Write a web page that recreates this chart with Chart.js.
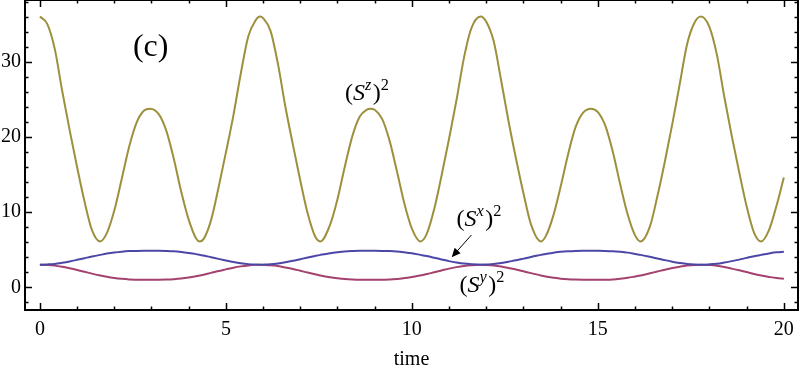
<!DOCTYPE html>
<html>
<head>
<meta charset="utf-8">
<script src="https://cdn.jsdelivr.net/npm/chart.js@4.4.1/dist/chart.umd.min.js"></script>
<style>
  html, body { margin: 0; padding: 0; background: #fff; }
  #wrap { width: 800px; height: 374px; position: relative; }
</style>
</head>
<body>
<div id="wrap"><canvas id="spinChart"></canvas></div>
<script>
// time samples (x axis), with the turning points of the curves included
const times = [0, 0.2, 0.4, 0.6, 0.8, 1.0, 1.2, 1.4, 1.62, 1.8,
    2.0, 2.2, 2.4, 2.6, 2.8, 2.96, 3.2, 3.4, 3.6, 3.8,
    4.0, 4.2, 4.3, 4.4, 4.6, 4.8, 5.0, 5.2, 5.4, 5.6,
    5.8, 5.92, 6.0, 6.2, 6.4, 6.6, 6.8, 7.0, 7.2, 7.4,
    7.54, 7.8, 8.0, 8.2, 8.4, 8.6, 8.8, 8.88, 9.0, 9.2,
    9.4, 9.6, 9.8, 10.0, 10.23, 10.4, 10.6, 10.8, 11.0, 11.2,
    11.4, 11.6, 11.85, 12.0, 12.2, 12.4, 12.6, 12.8, 13.0, 13.2,
    13.47, 13.6, 13.8, 14.0, 14.2, 14.4, 14.6, 14.81, 15.0, 15.2,
    15.4, 15.6, 15.8, 16.0, 16.15, 16.4, 16.6, 16.8, 17.0, 17.2,
    17.4, 17.6, 17.77, 18.0, 18.2, 18.4, 18.6, 18.8, 19.0, 19.2,
    19.39, 19.6, 19.8, 20];

// (S^z)^2
const szSquared = [36.0, 35.0, 31.7, 26.1, 20.9, 16.0, 11.4, 7.6, 6.1, 7.2,
    10.2, 14.4, 18.7, 21.9, 23.5, 23.75, 23.0, 20.8, 17.1, 12.7,
    9.0, 6.5, 6.1, 6.4, 8.9, 13.2, 17.9, 22.8, 28.4, 33.3,
    35.5, 36.0, 35.8, 34.1, 29.7, 24.0, 19.0, 14.2, 9.8, 6.75,
    6.1, 8.3, 11.7, 16.1, 20.1, 22.7, 23.65, 23.75, 23.6, 22.4,
    19.5, 15.4, 11.1, 7.8, 6.1, 7.1, 10.4, 14.9, 19.75, 24.9,
    30.5, 34.45, 36.0, 35.3, 32.7, 27.5, 22.05, 17.1, 12.5, 8.4,
    6.1, 6.8, 9.5, 13.4, 17.7, 21.3, 23.2, 23.75, 23.3, 21.5,
    18.05, 13.7, 9.7, 6.9, 6.1, 8.1, 12.1, 16.7, 21.7, 27.0,
    32.35, 35.2, 36.0, 34.6, 30.9, 25.3, 20.1, 15.3, 10.75, 7.25,
    6.1, 7.6, 10.8, 14.6];

// (S^x)^2
const sxSquared = [3.00, 3.04, 3.11, 3.26, 3.44, 3.65, 3.87, 4.09, 4.31, 4.48,
    4.63, 4.74, 4.81, 4.84, 4.85, 4.85, 4.85, 4.83, 4.79, 4.70,
    4.57, 4.41, 4.31, 4.22, 4.00, 3.78, 3.57, 3.37, 3.20, 3.08,
    3.02, 3.00, 3.01, 3.06, 3.17, 3.33, 3.52, 3.74, 3.96, 4.17,
    4.31, 4.54, 4.67, 4.77, 4.82, 4.85, 4.85, 4.85, 4.85, 4.84,
    4.82, 4.76, 4.65, 4.52, 4.31, 4.15, 3.93, 3.70, 3.48, 3.30,
    3.15, 3.06, 3.00, 3.03, 3.09, 3.22, 3.41, 3.59, 3.81, 4.04,
    4.31, 4.44, 4.59, 4.72, 4.79, 4.83, 4.85, 4.85, 4.85, 4.84,
    4.80, 4.72, 4.61, 4.44, 4.31, 4.05, 3.83, 3.61, 3.41, 3.24,
    3.10, 3.03, 3.00, 3.05, 3.13, 3.29, 3.48, 3.68, 3.91, 4.13,
    4.31, 4.50, 4.65, 4.72];

// (S^y)^2
const sySquared = [3.00, 2.96, 2.88, 2.72, 2.52, 2.30, 2.06, 1.82, 1.58, 1.40,
    1.24, 1.12, 1.04, 1.01, 1.00, 1.00, 1.00, 1.02, 1.07, 1.16,
    1.30, 1.48, 1.58, 1.68, 1.92, 2.16, 2.38, 2.60, 2.78, 2.91,
    2.98, 3.00, 2.98, 2.93, 2.82, 2.64, 2.44, 2.20, 1.96, 1.74,
    1.58, 1.34, 1.20, 1.09, 1.03, 1.00, 1.00, 1.00, 1.00, 1.01,
    1.03, 1.10, 1.22, 1.36, 1.58, 1.76, 2.00, 2.24, 2.48, 2.68,
    2.84, 2.94, 3.00, 2.97, 2.90, 2.76, 2.56, 2.36, 2.12, 1.88,
    1.58, 1.44, 1.28, 1.14, 1.06, 1.02, 1.00, 1.00, 1.00, 1.01,
    1.05, 1.14, 1.26, 1.44, 1.58, 1.86, 2.10, 2.34, 2.56, 2.74,
    2.89, 2.97, 3.00, 2.95, 2.86, 2.69, 2.48, 2.26, 2.02, 1.78,
    1.58, 1.38, 1.22, 1.15];

const xTickValues = [0, 5, 10, 15, 20];
const yTickValues = [0, 10, 20, 30];

const serif = "'Liberation Serif', 'Times New Roman', serif";

function toPoints(ys) {
    return times.map((t, i) => ({ x: t, y: ys[i] }));
}

// draw "(S^a)^2" with italic S and superscripts
function spinLabel(ctx, letter, left, base, size) {
    let x = left;
    const sup = size * 0.68;
    ctx.textBaseline = 'alphabetic';
    ctx.textAlign = 'left';
    ctx.font = size + 'px ' + serif;
    ctx.fillText('(', x, base); x += ctx.measureText('(').width;
    ctx.font = 'italic ' + size + 'px ' + serif;
    ctx.fillText('S', x, base); x += ctx.measureText('S').width;
    ctx.font = 'italic ' + sup + 'px ' + serif;
    ctx.fillText(letter, x, base - size * 0.42); x += ctx.measureText(letter).width + 1.5;
    ctx.font = size + 'px ' + serif;
    ctx.fillText(')', x, base); x += ctx.measureText(')').width;
    ctx.font = sup + 'px ' + serif;
    ctx.fillText('2', x, base - size * 0.42);
}

const frameAndLabels = {
    id: 'frameAndLabels',
    afterDraw(chart) {
        const { ctx, chartArea: a, scales: { x, y } } = chart;
        ctx.save();
        ctx.strokeStyle = '#000';
        ctx.lineWidth = 2;
        ctx.strokeRect(a.left, a.top, a.right - a.left, a.bottom - a.top);

        // inward ticks on all four sides
        ctx.lineWidth = 1.5;
        ctx.beginPath();
        for (let v = 0; v <= 20; v++) {
            const px = Math.round(x.getPixelForValue(v)) + 0.5;
            const len = v % 5 === 0 ? 7 : 3.5;
            ctx.moveTo(px, a.bottom); ctx.lineTo(px, a.bottom - len);
            ctx.moveTo(px, a.top); ctx.lineTo(px, a.top + len);
        }
        for (let v = -2; v <= 38; v += 2) {
            const py = Math.round(y.getPixelForValue(v)) + 0.5;
            const len = v % 10 === 0 ? 7 : 3.5;
            ctx.moveTo(a.left, py); ctx.lineTo(a.left + len, py);
            ctx.moveTo(a.right, py); ctx.lineTo(a.right - len, py);
        }
        ctx.stroke();

        ctx.fillStyle = '#000';
        ctx.font = '32px ' + serif;
        ctx.textAlign = 'left';
        ctx.textBaseline = 'alphabetic';
        ctx.fillText('(c)', x.getPixelForValue(2.5), y.getPixelForValue(30.8));

        spinLabel(ctx, 'z', x.getPixelForValue(8.2), y.getPixelForValue(24.9), 24);
        spinLabel(ctx, 'x', x.getPixelForValue(11.2), y.getPixelForValue(8.2), 24);
        spinLabel(ctx, 'y', x.getPixelForValue(11.28), y.getPixelForValue(-0.6), 24);

        // arrow pointing at (S^x)^2 curve
        const x0 = x.getPixelForValue(11.6), y0 = y.getPixelForValue(6.95);
        const x1 = x.getPixelForValue(11.07), y1 = y.getPixelForValue(4.0);
        const ang = Math.atan2(y1 - y0, x1 - x0);
        ctx.lineWidth = 1;
        ctx.beginPath();
        ctx.moveTo(x0, y0);
        ctx.lineTo(x1 - 6 * Math.cos(ang), y1 - 6 * Math.sin(ang));
        ctx.stroke();
        ctx.beginPath();
        ctx.moveTo(x1, y1);
        ctx.lineTo(x1 - 9 * Math.cos(ang) + 4 * Math.sin(ang), y1 - 9 * Math.sin(ang) - 4 * Math.cos(ang));
        ctx.lineTo(x1 - 9 * Math.cos(ang) - 4 * Math.sin(ang), y1 - 9 * Math.sin(ang) + 4 * Math.cos(ang));
        ctx.closePath();
        ctx.fill();
        ctx.restore();
    }
};

const ctx = document.getElementById('spinChart').getContext('2d');
const spinChart = new Chart(ctx, {
    type: 'line',
    data: {
        datasets: [
            { label: '(Sz)^2', data: toPoints(szSquared), borderColor: '#9d903d' },
            { label: '(Sx)^2', data: toPoints(sxSquared), borderColor: '#4b47a7' },
            { label: '(Sy)^2', data: toPoints(sySquared), borderColor: '#a3416f' }
        ]
    },
    options: {
        responsive: true,
        maintainAspectRatio: false,
        animation: false,
        layout: { padding: { top: 0, right: 2, left: 0, bottom: 0 } },
        elements: {
            line: { borderWidth: 2, cubicInterpolationMode: 'monotone', fill: false },
            point: { radius: 0 }
        },
        plugins: {
            legend: { display: false },
            tooltip: { enabled: false }
        },
        scales: {
            x: {
                type: 'linear',
                min: -0.4,
                max: 20.38,
                afterBuildTicks: s => { s.ticks = xTickValues.map(v => ({ value: v })); },
                afterFit: s => { s.height = 64; s.paddingLeft = 0; s.paddingRight = 0; },
                grid: { display: false, drawTicks: false },
                border: { display: false },
                ticks: { padding: 8, color: '#000', font: { family: serif, size: 20 } },
                title: { display: true, text: 'time', color: '#000', font: { family: serif, size: 20 }, padding: { top: 4, bottom: 2 } }
            },
            y: {
                min: -3.02,
                max: 38.2,
                afterBuildTicks: s => { s.ticks = yTickValues.map(v => ({ value: v })); },
                afterFit: s => { s.width = 25; s.paddingTop = 0; s.paddingBottom = 0; },
                grid: { display: false, drawTicks: false },
                border: { display: false },
                ticks: { padding: 4, color: '#000', font: { family: serif, size: 20 } }
            }
        }
    },
    plugins: [frameAndLabels]
});
</script>
</body>
</html>
